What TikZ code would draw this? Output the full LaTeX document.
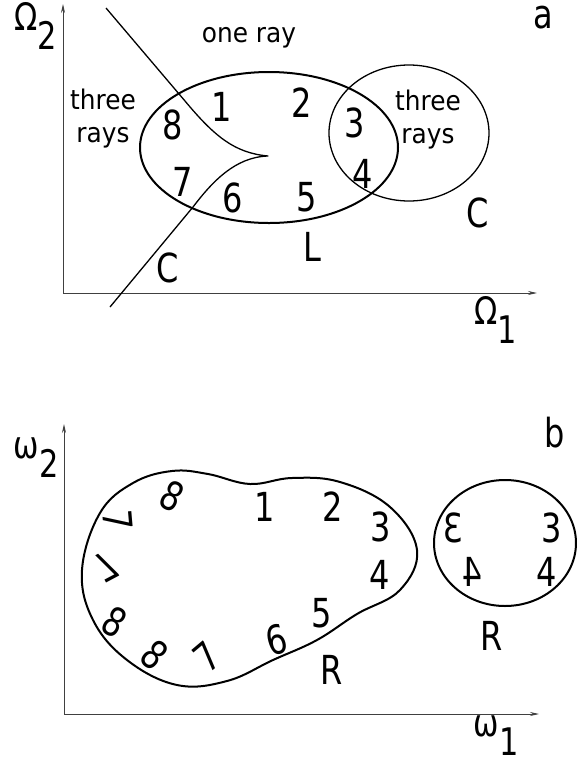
\documentclass[tikz,border=0pt]{standalone}
\usepackage{fontspec}
\usetikzlibrary{arrows.meta}
\newfontfamily\digitfont[FakeStretch=0.8]{DejaVu Sans}
\newfontfamily\labelfont[FakeStretch=0.92]{DejaVu Sans}
\newcommand\lowsub[1]{\raisebox{-0.5em}{#1}}

\begin{document}
\begin{tikzpicture}[x=1pt, y=-1pt,
    num/.style={font=\digitfont\fontsize{40}{40}\selectfont, inner sep=0pt},
    axlabel/.style={font=\digitfont\fontsize{38}{38}\selectfont, inner sep=0pt},
    lbl/.style={font=\labelfont\fontsize{27}{33}\selectfont, align=center, inner sep=0pt},
    axis/.style={line width=0.8pt, black!75, -{Stealth[length=9pt,width=4pt]}},
    curve/.style={line width=1.3pt, line join=round},
    bold/.style={line width=2pt}
  ]
  \useasboundingbox (0,0) rectangle (577,764);

  % panel a
  \coordinate (oa) at (63,293);
  \coordinate (xa) at (537,293);
  \coordinate (ya) at (63,4);
  \draw[axis] (oa) -- (xa);
  \draw[axis] (oa) -- (ya);
  \draw[bold] (269,147.5) ellipse [x radius=129, y radius=75.5];
  \draw[curve] (409,133) ellipse [x radius=80, y radius=68];
  \coordinate (cusp) at (268,156);
  \draw[curve] (106,8) -- (185,101) .. controls (215,137) and (235,153) .. (cusp)
    .. controls (235,157) and (212,182) .. (193,207) -- (110,307);

  \node[axlabel] (om2) at (36,26) {Ω\lowsub{2}};
  \node[axlabel] (om1) at (496,320) {Ω\lowsub{1}};
  \node[num] (tag a) at (543,18) {a};
  \node[lbl] (one) at (249,38) {one ray};
  \node[lbl] (three l) at (103,119) {three\\rays};
  \node[lbl] (three r) at (428,120) {three\\rays};
  \node[num] (a1) at (222,107) {1};
  \node[num] (a2) at (302,103) {2};
  \node[num] (a3) at (355,123) {3};
  \node[num] (a4) at (363,174) {4};
  \node[num] (a5) at (307,197) {5};
  \node[num] (a6) at (233,198) {6};
  \node[num] (a7) at (183,182) {7};
  \node[num] (a8) at (173,125) {8};
  \node[num] (L) at (312,247) {L};
  \node[num] (C l) at (168,268) {C};
  \node[num] (C r) at (478,213) {C};

  % panel b
  \coordinate (ob) at (64,714);
  \coordinate (xb) at (539,714);
  \coordinate (yb) at (64,424);
  \draw[axis] (ob) -- (xb);
  \draw[axis] (ob) -- (yb);
  \draw[bold] plot[smooth cycle, tension=0.65] coordinates {
    (82,570) (100,513) (133,483) (172,471) (208,474) (250,484) (292,478)
    (340,482) (390,507) (417,550) (400,590) (357,614) (317,640) (273,660)
    (227,681) (177,685) (127,660) (93,620)};
  \draw[bold] (505,543) ellipse [x radius=71, y radius=63];

  \node[axlabel] (w2) at (36,458) {ω\lowsub{2}};
  \node[axlabel] (w1) at (496,736) {ω\lowsub{1}};
  \node[num] (tag b) at (555,433) {b};
  \node[num] (b1) at (265,507) {1};
  \node[num] (b2) at (333,507) {2};
  \node[num] (b3) at (381,527) {3};
  \node[num] (b4) at (380,575) {4};
  \node[num] (b5) at (322,613) {5};
  \node[num, rotate=15] (b6) at (277,640) {6};
  \node[num, rotate=40] (b7) at (207,657) {7};
  \node[num, rotate=-40] (b8) at (155,655) {8};
  \node[num, rotate=-30] (b8b) at (115,622) {8};
  \node[num, rotate=28, yscale=-1] (b7b) at (106,567) {7};
  \node[num, rotate=-85] (b7c) at (118,520) {7};
  \node[num, rotate=-27] (b8c) at (172,496) {8};
  \node[num] (R l) at (332,670) {R};
  \node[num, xscale=-1] (c3m) at (453,528) {3};
  \node[num] (c3) at (552,528) {3};
  \node[num, xscale=-1] (c4m) at (472,572) {4};
  \node[num] (c4) at (547,572) {4};
  \node[num] (R r) at (492,636) {R};
\end{tikzpicture}
\end{document}
